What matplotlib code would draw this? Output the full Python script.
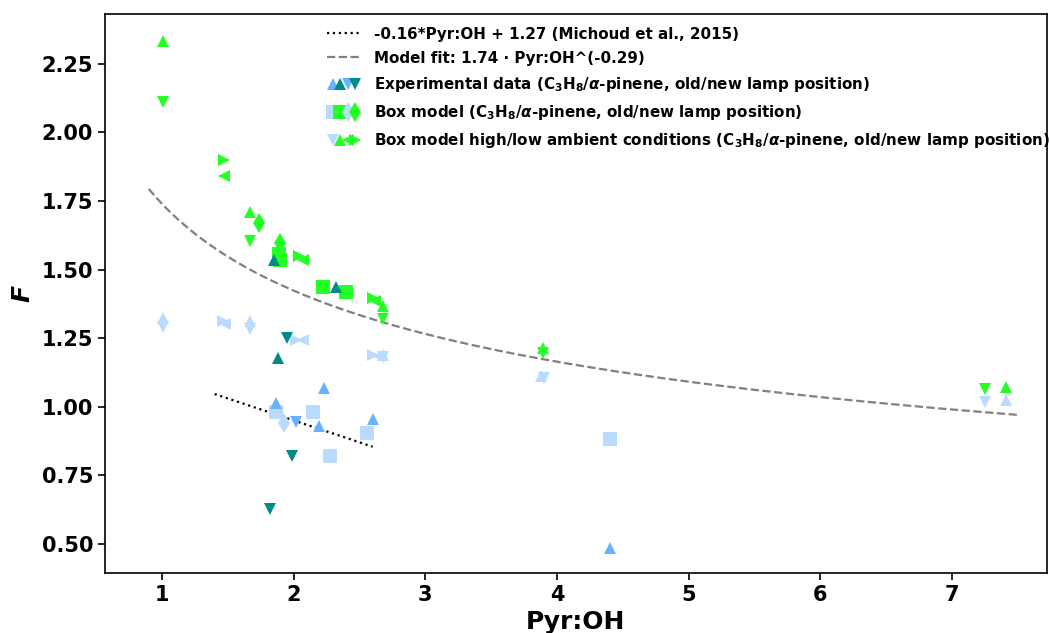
import numpy as np
import matplotlib
matplotlib.use("Agg")
import matplotlib.pyplot as plt
from matplotlib.legend_handler import HandlerTuple

plt.rcParams['mathtext.fontset'] = 'custom'
plt.rcParams['mathtext.rm'] = 'DejaVu Sans:bold'
plt.rcParams['mathtext.it'] = 'DejaVu Sans:italic:bold'
plt.rcParams['mathtext.bf'] = 'DejaVu Sans:bold'

# colours
c_light = '#b9dbff'
c_blue = '#66b2ff'
c_teal = '#008b8b'
c_green = '#22ff22'

# experimental data (C3H8 / alpha-pinene, old / new lamp position)
exp_c3h8_old_x = [1.87, 2.19, 2.23, 2.60, 4.40]
exp_c3h8_old_y = [1.013, 0.930, 1.068, 0.955, 0.485]
exp_c3h8_new_x = [2.015]
exp_c3h8_new_y = [0.944]
exp_apin_old_x = [1.85, 1.88, 2.32]
exp_apin_old_y = [1.533, 1.177, 1.435]
exp_apin_new_x = [1.95, 1.985, 1.82]
exp_apin_new_y = [1.249, 0.820, 0.627]

# box model
box_c3h8_old_x = [1.87, 2.145, 2.28, 2.555, 4.40]
box_c3h8_old_y = [0.980, 0.981, 0.820, 0.904, 0.882]
box_c3h8_new_x = [1.93]
box_c3h8_new_y = [0.940]
box_apin_old_x = [1.89, 1.90, 2.22, 2.40]
box_apin_old_y = [1.555, 1.535, 1.435, 1.417]
box_apin_new_x = [1.74, 1.90]
box_apin_new_y = [1.670, 1.597]

# box model high / low ambient conditions
hl_c3h8_high_old_x = [1.01, 1.67, 2.68, 3.88, 7.41]
hl_c3h8_high_old_y = [1.323, 1.312, 1.190, 1.110, 1.024]
hl_c3h8_low_old_x = [1.01, 1.67, 2.68, 3.90, 7.25]
hl_c3h8_low_old_y = [1.290, 1.285, 1.180, 1.104, 1.017]
hl_c3h8_high_new_x = [1.46, 2.02, 2.60]
hl_c3h8_high_new_y = [1.312, 1.243, 1.187]
hl_c3h8_low_new_x = [1.48, 2.07, 2.64]
hl_c3h8_low_new_y = [1.300, 1.243, 1.185]
hl_apin_high_old_x = [1.01, 1.67, 2.68, 3.89, 7.41]
hl_apin_high_old_y = [2.335, 1.710, 1.367, 1.214, 1.070]
hl_apin_low_old_x = [1.01, 1.67, 2.68, 3.89, 7.25]
hl_apin_low_old_y = [2.110, 1.605, 1.320, 1.196, 1.063]
hl_apin_high_new_x = [1.47, 2.04, 2.60]
hl_apin_high_new_y = [1.900, 1.550, 1.395]
hl_apin_low_new_x = [1.47, 2.07, 2.62]
hl_apin_low_new_y = [1.840, 1.535, 1.385]

# fits
mich_slope, mich_icpt = -0.16, 1.27
mich_range = (1.4, 2.6)
fit_a, fit_b = 1.74, -0.29
fit_range = (0.9, 7.5)

fig = plt.figure(figsize=(10.49, 6.33), dpi=100)
ax = fig.add_axes([0.100, 0.095, 0.898, 0.883])

xm = np.linspace(*mich_range, 50)
l1, = ax.plot(xm, mich_slope * xm + mich_icpt, ':', color='black', lw=1.6)
xf = np.linspace(*fit_range, 300)
l2, = ax.plot(xf, fit_a * xf ** fit_b, '--', color='gray', lw=1.6)

ms = 8.7
kw = dict(linestyle='none', markeredgewidth=0)


def pts(x, y, m, c, size=ms):
    h, = ax.plot(x, y, marker=m, color=c, markersize=size, **kw)
    return h


b_hl = [
    pts(hl_c3h8_low_old_x, hl_c3h8_low_old_y, 'v', c_light),
    pts(hl_apin_low_old_x, hl_apin_low_old_y, 'v', c_green),
    pts(hl_c3h8_high_old_x, hl_c3h8_high_old_y, '^', c_light),
    pts(hl_apin_high_old_x, hl_apin_high_old_y, '^', c_green),
    pts(hl_c3h8_low_new_x, hl_c3h8_low_new_y, '<', c_light),
    pts(hl_apin_low_new_x, hl_apin_low_new_y, '<', c_green),
    pts(hl_c3h8_high_new_x, hl_c3h8_high_new_y, '>', c_light),
    pts(hl_apin_high_new_x, hl_apin_high_new_y, '>', c_green),
]
b_box = [
    pts(box_c3h8_old_x, box_c3h8_old_y, 's', c_light, 9.5),
    pts(box_apin_old_x, box_apin_old_y, 's', c_green, 9.5),
    pts(box_c3h8_new_x, box_c3h8_new_y, 'd', c_light, 10),
    pts(box_apin_new_x, box_apin_new_y, 'd', c_green, 10),
]
b_exp = [
    pts(exp_c3h8_old_x, exp_c3h8_old_y, '^', c_blue),
    pts(exp_apin_old_x, exp_apin_old_y, '^', c_teal),
    pts(exp_c3h8_new_x, exp_c3h8_new_y, 'v', c_blue),
    pts(exp_apin_new_x, exp_apin_new_y, 'v', c_teal),
]

lab_exp = r'Experimental data ($\mathrm{C}_3\mathrm{H}_8$/$\alpha$-pinene, old/new lamp position)'
lab_box = r'Box model ($\mathrm{C}_3\mathrm{H}_8$/$\alpha$-pinene, old/new lamp position)'
lab_hl = r'Box model high/low ambient conditions ($\mathrm{C}_3\mathrm{H}_8$/$\alpha$-pinene, old/new lamp position)'

leg = ax.legend([l1, l2, tuple(b_exp), tuple(b_box),
                 (b_hl[0], b_hl[3], b_hl[5], b_hl[7])],
                ['-0.16*Pyr:OH + 1.27 (Michoud et al., 2015)',
                 'Model fit: 1.74 · Pyr:OH^(-0.29)',
                 lab_exp, lab_box, lab_hl],
                handler_map={tuple: HandlerTuple(ndivide=None, pad=-0.3)},
                loc='upper left', bbox_to_anchor=(0.229, 0.988),
                borderaxespad=0, frameon=False, handlelength=2.3,
                handletextpad=0.8, labelspacing=0.6,
                prop={'weight': 'bold', 'size': 10.9})

ax.set_xlim(0.567, 7.72)
ax.set_ylim(0.394, 2.432)
ax.set_yticks([0.5, 0.75, 1.0, 1.25, 1.5, 1.75, 2.0, 2.25])
ax.set_xlabel('Pyr:OH', fontsize=18, fontweight='bold', labelpad=4)
ax.set_ylabel('F', fontsize=18, fontweight='bold', style='italic', labelpad=5)
for t in ax.get_xticklabels() + ax.get_yticklabels():
    t.set_fontweight('bold')
ax.tick_params(labelsize=15, width=1.2, length=5)
for s in ax.spines.values():
    s.set_linewidth(1.2)

fig.savefig('out.png', dpi=100)
